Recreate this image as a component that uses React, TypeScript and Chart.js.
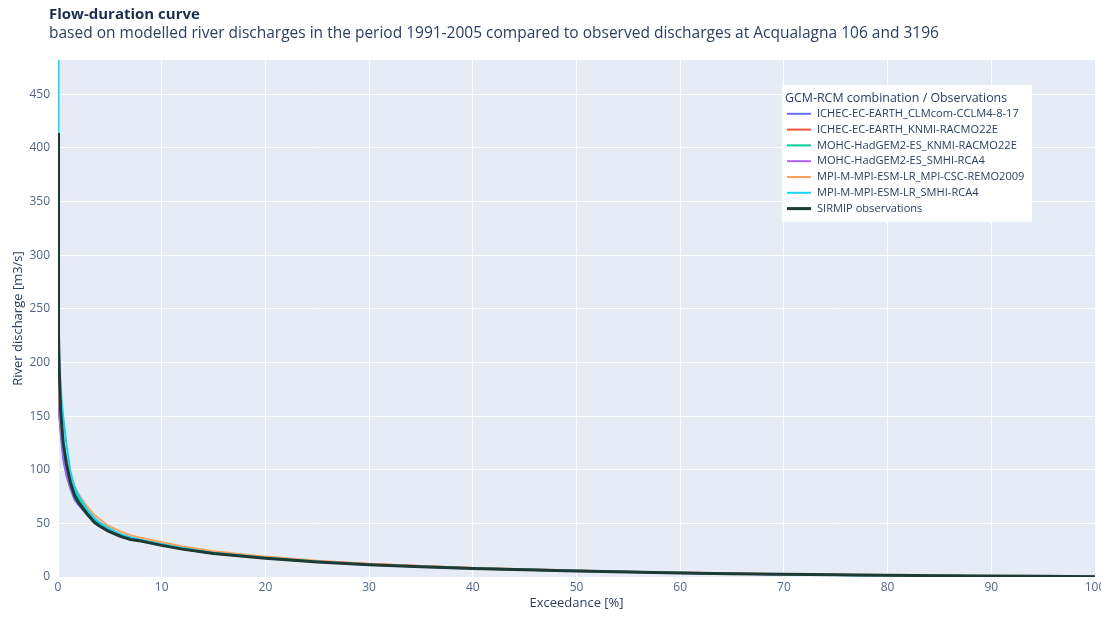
import React, { useEffect, useRef } from "react";
import { Chart, registerables } from "chart.js";

Chart.register(...registerables);

// ---- data ----
const EXCEEDANCE = [0, 0.02, 0.08, 0.12, 0.25, 0.5, 0.8, 1.2, 1.6, 2, 2.8, 3.5, 4, 4.8, 6, 7, 8, 10, 12, 15, 20, 25, 30, 35, 40, 45, 50, 55, 60, 65, 70, 75, 80, 85, 90, 95, 100];

const ICHEC_CLMCOM = [215, 185, 165, 152, 135, 110, 95, 82, 72, 67, 58, 51, 47.5, 43.5, 38.5, 35.5, 33.5, 29.5, 26, 22, 17.8, 14.2, 11.6, 9.6, 8, 6.8, 5.7, 4.6, 3.7, 3.0, 2.4, 1.9, 1.5, 1.1, 0.8, 0.5, 0.2];
const ICHEC_KNMI = [250, 225, 190, 172, 148, 122, 105, 90, 79, 72, 61, 53, 49.5, 45, 39.5, 36.5, 34, 30.5, 27, 22.5, 18, 14.8, 12.2, 10.2, 8.5, 7.2, 6.1, 5.0, 4.1, 3.3, 2.6, 2.0, 1.5, 1.1, 0.8, 0.5, 0.2];
const MOHC_KNMI = [300, 250, 205, 180, 152, 128, 110, 92, 80, 73, 62, 54, 49.5, 45, 40, 36.5, 34, 30.5, 27, 22.5, 18, 14.5, 11.8, 9.8, 8.2, 6.9, 5.8, 4.8, 3.9, 3.1, 2.5, 1.9, 1.5, 1.1, 0.8, 0.5, 0.2];
const MOHC_SMHI = [195, 175, 160, 150, 140, 113, 97, 84, 74, 68, 59, 52, 48, 44, 39, 36, 33.5, 29.5, 26, 22, 17.6, 14.1, 11.5, 9.5, 7.9, 6.7, 5.6, 4.6, 3.7, 3.0, 2.4, 1.9, 1.5, 1.1, 0.8, 0.5, 0.2];
const MPI_REMO = [235, 205, 180, 165, 145, 125, 110, 95, 84, 77, 66, 58, 54, 48, 42.5, 39, 36.5, 32.5, 28.5, 24, 19, 15.2, 12.3, 10.2, 8.5, 7.1, 5.9, 4.9, 4.0, 3.2, 2.5, 2.0, 1.5, 1.1, 0.8, 0.5, 0.2];
const MPI_SMHI = [482, 280, 225, 200, 175, 150, 125, 98, 84, 76, 63, 55, 51, 46, 40, 37, 34.5, 30.5, 27, 22.5, 18, 14.4, 11.7, 9.7, 8.1, 6.9, 5.8, 4.8, 3.9, 3.1, 2.5, 1.9, 1.5, 1.1, 0.8, 0.5, 0.2];
const SIRMIP_OBS = [414, 300, 225, 195, 155, 125, 106, 88, 76, 69, 59, 51, 47.5, 43, 38, 35, 33.5, 29.5, 26, 22, 17.5, 14, 11.5, 9.6, 8, 6.8, 5.7, 4.7, 3.8, 3.1, 2.5, 2.0, 1.6, 1.2, 0.9, 0.6, 0.2];

const SERIES_NAMES = [
  "ICHEC-EC-EARTH_CLMcom-CCLM4-8-17",
  "ICHEC-EC-EARTH_KNMI-RACMO22E",
  "MOHC-HadGEM2-ES_KNMI-RACMO22E",
  "MOHC-HadGEM2-ES_SMHI-RCA4",
  "MPI-M-MPI-ESM-LR_MPI-CSC-REMO2009",
  "MPI-M-MPI-ESM-LR_SMHI-RCA4",
  "SIRMIP observations",
];
const SERIES_VALUES = [ICHEC_CLMCOM, ICHEC_KNMI, MOHC_KNMI, MOHC_SMHI, MPI_REMO, MPI_SMHI, SIRMIP_OBS];
const SERIES_COLORS = ["#636efa", "#ef553b", "#00cc96", "#ab63fa", "#ffa15a", "#19d3f3", "#1e3a34"];
const SERIES_WIDTHS = [2, 2, 2, 2, 2, 2, 3];

const TITLE = "Flow-duration curve";
const SUBTITLE = "based on modelled river discharges in the period 1991-2005 compared to observed discharges at Acqualagna 106 and 3196";
const LEGEND_TITLE = "GCM-RCM combination / Observations";
const X_TITLE = "Exceedance [%]";
const Y_TITLE = "River discharge [m3/s]";
const X_MIN = 0, X_MAX = 100, X_STEP = 10;
const Y_MIN = 0, Y_MAX = 482, Y_STEP = 50;

const FONT = '"Open Sans", "DejaVu Sans", sans-serif';

const bgPlugin = {
  id: "plotBg",
  beforeDraw(chart: any) {
    const { ctx, chartArea } = chart;
    ctx.save();
    ctx.fillStyle = "#e5ecf6";
    ctx.fillRect(chartArea.left, chartArea.top, chartArea.right - chartArea.left, chartArea.bottom - chartArea.top);
    ctx.restore();
  },
};

const textPlugin = {
  id: "titlesAndLegend",
  afterDraw(chart: any) {
    const { ctx, chartArea } = chart;
    ctx.save();
    // titles
    ctx.textBaseline = "middle";
    ctx.textAlign = "left";
    ctx.fillStyle = "#1c2e50";
    ctx.font = `bold 15px ${FONT}`;
    ctx.fillText(TITLE, 41, 7);
    ctx.fillStyle = "#2a3f5f";
    ctx.font = `15.5px ${FONT}`;
    ctx.fillText(SUBTITLE, 41, 26);

    // legend
    const lx = chartArea.right - 313;
    const ly = chartArea.top + 25;
    ctx.fillStyle = "#ffffff";
    ctx.fillRect(lx, ly, 250, 137);
    ctx.fillStyle = "#2a3f5f";
    ctx.font = `12.4px ${FONT}`;
    ctx.fillText(LEGEND_TITLE, lx + 3, ly + 13);
    ctx.font = `11.1px ${FONT}`;
    SERIES_NAMES.forEach((name, i) => {
      const y = ly + 28.8 + i * 15.8;
      ctx.strokeStyle = SERIES_COLORS[i];
      ctx.lineWidth = SERIES_WIDTHS[i];
      ctx.beginPath();
      ctx.moveTo(lx + 5, y);
      ctx.lineTo(lx + 29, y);
      ctx.stroke();
      ctx.fillStyle = "#2a3f5f";
      ctx.fillText(name, lx + 35, y);
    });
    ctx.restore();
  },
};

export default function App() {
  const ref = useRef<HTMLCanvasElement | null>(null);

  useEffect(() => {
    if (!ref.current) return;
    const datasets = SERIES_NAMES.map((name, i) => ({
      label: name,
      data: EXCEEDANCE.map((x, j) => ({ x, y: SERIES_VALUES[i][j] })),
      borderColor: SERIES_COLORS[i],
      backgroundColor: SERIES_COLORS[i],
      borderWidth: SERIES_WIDTHS[i],
      pointRadius: 0,
      tension: 0,
      fill: false,
      order: SERIES_NAMES.length - 1 - i,
    }));
    const chart = new Chart(ref.current, {
      type: "line",
      data: { datasets },
      options: {
        animation: false,
        responsive: true,
        maintainAspectRatio: false,
        layout: { padding: { top: 52, right: 14, left: 0, bottom: 0 } },
        plugins: {
          legend: { display: false },
          title: { display: false },
          tooltip: { enabled: false },
        },
        scales: {
          x: {
            type: "linear",
            min: X_MIN,
            max: X_MAX,
            border: { display: false },
            grid: { color: "#ffffff", lineWidth: 1, drawTicks: false },
            ticks: {
              stepSize: X_STEP,
              padding: 3,
              color: "#506784",
              font: { family: FONT, size: 12 },
              maxRotation: 0,
            },
            title: {
              display: true,
              text: X_TITLE,
              color: "#2a3f5f",
              font: { family: FONT, size: 13, lineHeight: 1.2 },
              padding: { top: 0, bottom: 0 },
            },
            afterFit(scale: any) {
              scale.height = 34;
            },
          },
          y: {
            type: "linear",
            min: Y_MIN,
            max: Y_MAX,
            border: { display: false },
            grid: { color: "#ffffff", lineWidth: 1, drawTicks: false },
            ticks: {
              stepSize: Y_STEP,
              includeBounds: false,
              padding: 8,
              color: "#506784",
              font: { family: FONT, size: 12 },
            },
            title: {
              display: true,
              text: Y_TITLE,
              color: "#2a3f5f",
              font: { family: FONT, size: 13, lineHeight: 1.2 },
              padding: { top: 2, bottom: 0 },
            },
            afterFit(scale: any) {
              scale.width = 50;
            },
          },
        },
      },
      plugins: [bgPlugin, textPlugin],
    });
    return () => chart.destroy();
  }, []);

  return (
    <div style={{ position: "relative", width: 1101, height: 603 }}>
      <canvas ref={ref} />
    </div>
  );
}
